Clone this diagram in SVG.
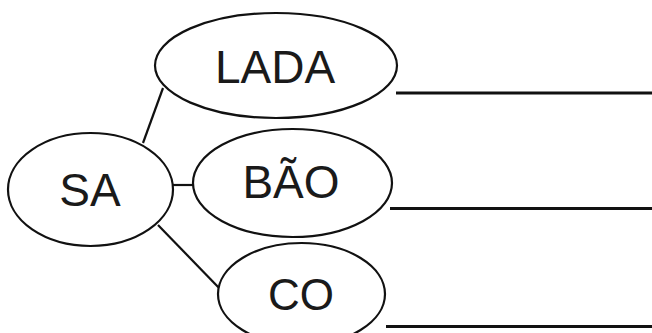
<svg xmlns="http://www.w3.org/2000/svg" width="652" height="333" viewBox="0 0 652 333">
<style>
.node ellipse{fill:#fff;stroke:#111;stroke-width:2.2}
.node text{font-family:"Liberation Sans",Arial,sans-serif;font-size:46px;fill:#1a1a1a;text-anchor:middle}
.conn line{stroke:#111;stroke-width:2.2}
.rule line{stroke:#111;stroke-width:3.2}
</style>
<rect width="652" height="333" fill="#fff"/>
<g class="rule">
<line x1="396" y1="93" x2="652" y2="93"/>
<line x1="390" y1="208.5" x2="652" y2="208.5"/>
<line x1="386" y1="326.5" x2="652" y2="326.5"/>
</g>
<g class="conn">
<line x1="143" y1="143" x2="163" y2="88"/>
<line x1="172" y1="185" x2="194" y2="185"/>
<line x1="158" y1="225" x2="221" y2="290"/>
</g>
<g id="sa" class="node">
<ellipse cx="90.5" cy="189.5" rx="82.5" ry="56.5"/>
<text x="90" y="206">SA</text>
</g>
<g id="lada" class="node">
<ellipse cx="276" cy="65.5" rx="121" ry="52.5"/>
<text x="275" y="83">LADA</text>
</g>
<g id="bao" class="node">
<ellipse cx="292.5" cy="183" rx="99.5" ry="54"/>
<text x="291" y="198" font-size="45">BÃO</text>
</g>
<g id="co" class="node">
<ellipse cx="301.5" cy="294" rx="83.5" ry="51"/>
<text x="301" y="310" style="font-size:44px">CO</text>
</g>
</svg>
